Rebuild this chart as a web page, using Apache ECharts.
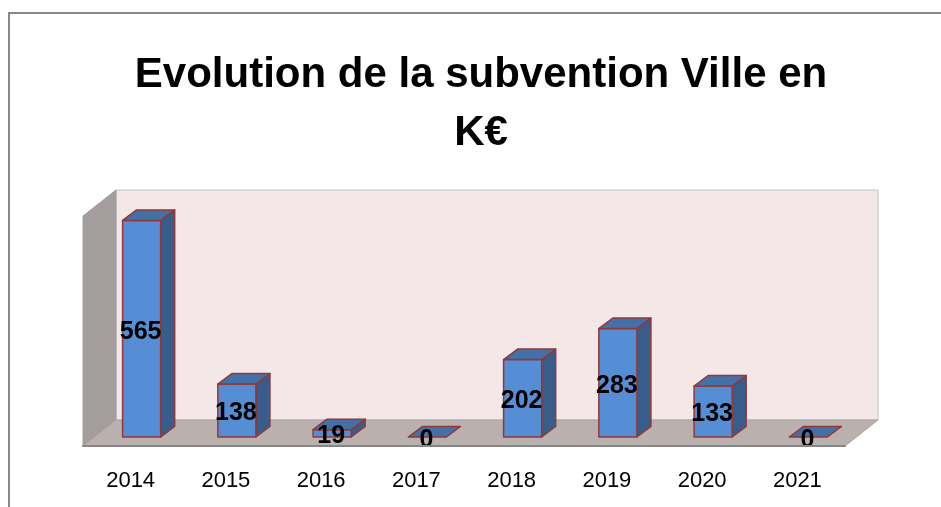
<!DOCTYPE html>
<html>
<head>
<meta charset="utf-8">
<script src="https://cdn.jsdelivr.net/npm/echarts@6/dist/echarts.min.js"></script>
<style>
    html, body { margin: 0; padding: 0; background: #fff; }
    #chart { width: 941px; height: 507px; }
</style>
</head>
<body>
<div id="chart"></div>
<script>
    // data
    const years = ['2014', '2015', '2016', '2017', '2018', '2019', '2020', '2021']
    const values = [565, 138, 19, 0, 202, 283, 133, 0]
    const titleText = 'Evolution de la subvention Ville en\nK€'

    // fake 3d: depth of the chart box and of each bar
    const wallDx = 33, wallDy = -26
    const barShiftX = 11, barShiftY = -9
    const barDx = 14, barDy = -10.5

    let chart = echarts.init(document.getElementById('chart'))

    function renderWalls(params, api) {
        let cs = params.coordSys
        let x = cs.x, y = cs.y, w = cs.width, h = cs.height
        return {
            type: 'group',
            children: [{
                type: 'rect',
                shape: { x: x + wallDx, y: y + wallDy, width: w, height: h },
                style: { fill: '#f4e7e7', stroke: '#c4c0c0', lineWidth: 1 }
            }, {
                type: 'polygon',
                shape: { points: [[x, y], [x + wallDx, y + wallDy], [x + wallDx, y + h + wallDy], [x, y + h]] },
                style: { fill: '#a39e9d', stroke: '#a39e9d', lineWidth: 1 }
            }, {
                type: 'polygon',
                shape: { points: [[x, y + h], [x + w, y + h], [x + w + wallDx, y + h + wallDy], [x + wallDx, y + h + wallDy]] },
                style: { fill: '#bab1af', stroke: '#a8a3a2', lineWidth: 1 }
            }]
        }
    }

    function renderBar(params, api) {
        let p0 = api.coord([api.value(0), 0])
        let p1 = api.coord([api.value(0), api.value(1)])
        let bw = api.size([1, 0])[0] * 0.4
        let x0 = p0[0] + barShiftX - bw / 2, x1 = x0 + bw
        let yb = p0[1] + barShiftY, yt = p1[1] + barShiftY
        let edge = { stroke: '#953735', lineWidth: 1.5, lineJoin: 'round' }
        let children = []
        if (yb - yt > 0.5) {
            children.push({
                type: 'polygon',
                shape: { points: [[x1, yb], [x1 + barDx, yb + barDy], [x1 + barDx, yt + barDy], [x1, yt]] },
                style: Object.assign({ fill: '#385d8a' }, edge)
            })
            children.push({
                type: 'rect',
                shape: { x: x0, y: yt, width: bw, height: yb - yt },
                style: Object.assign({ fill: '#558ed5' }, edge)
            })
        }
        children.push({
            type: 'polygon',
            shape: { points: [[x0, yt], [x1, yt], [x1 + barDx, yt + barDy], [x0 + barDx, yt + barDy]] },
            style: Object.assign({ fill: '#4470a8' }, edge)
        })
        children.push({
            type: 'text',
            style: {
                text: String(api.value(1)),
                x: (x0 + x1) / 2 - 1,
                y: (yt + yb) / 2 + 3,
                align: 'center',
                verticalAlign: 'middle',
                fill: '#000',
                font: 'bold 25px "Liberation Sans", Arial, sans-serif'
            }
        })
        return { type: 'group', children: children }
    }

    let option = {
        animation: false,
        backgroundColor: '#fff',
        title: {
            text: titleText,
            left: 476,
            top: 41,
            textAlign: 'center',
            textStyle: {
                color: '#000',
                fontSize: 42,
                fontWeight: 'bold',
                fontFamily: '"Liberation Sans", Arial, sans-serif',
                lineHeight: 58
            }
        },
        graphic: [{
            type: 'rect',
            shape: { x: 9, y: 13, width: 960, height: 520 },
            style: { fill: 'none', stroke: '#878787', lineWidth: 2 },
            z: -10
        }],
        grid: {
            left: 83,
            right: 96,
            top: 216,
            bottom: 61
        },
        xAxis: {
            type: 'category',
            data: years,
            axisLine: { lineStyle: { color: '#868686', width: 2 } },
            axisTick: { length: 7, lineStyle: { color: '#868686', width: 1 } },
            axisLabel: {
                color: '#000',
                fontSize: 22,
                fontFamily: '"Liberation Sans", Arial, sans-serif',
                margin: 24
            },
            z: 5
        },
        yAxis: {
            type: 'value',
            min: 0,
            max: 600,
            show: false,
            splitLine: { show: false }
        },
        series: [{
            type: 'custom',
            name: 'walls',
            renderItem: renderWalls,
            data: [[0, 0]],
            silent: true,
            z: 1
        }, {
            type: 'custom',
            name: 'subvention',
            renderItem: renderBar,
            data: values.map((v, i) => [i, v]),
            encode: { x: 0, y: 1 },
            z: 3
        }]
    }
    chart.setOption(option)
</script>
</body>
</html>
